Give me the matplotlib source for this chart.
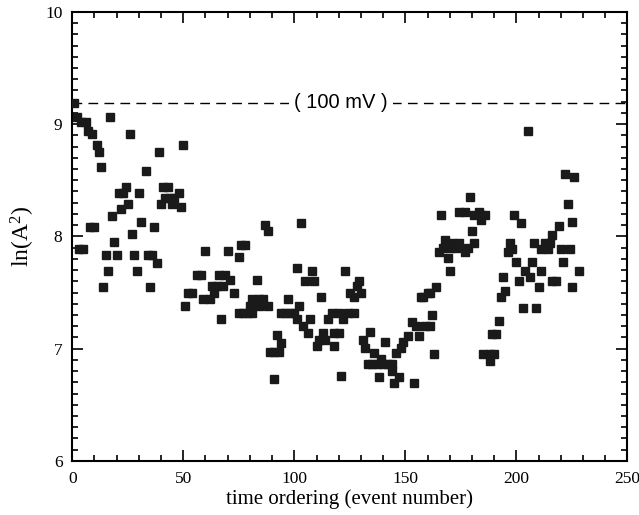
import matplotlib
matplotlib.use("Agg")
import matplotlib.pyplot as plt
from matplotlib.ticker import MultipleLocator

plt.rcParams["font.family"] = ["Liberation Serif", "DejaVu Serif"]
plt.rcParams["mathtext.default"] = "regular"

# event number, ln(A^2)
event = [1, 2, 4, 6, 7, 9, 8, 10, 3, 5, 11, 12, 13, 14, 15, 16, 17, 18, 19, 20,
         21, 23, 22, 24, 25, 26, 27, 28, 29, 30, 31, 33, 34, 35, 36, 37, 38, 39, 40, 41,
         42, 43, 44, 45, 46, 48, 49, 50, 51,
         87, 88, 103, 76, 78, 60, 70, 75, 101, 56, 58, 66, 69, 71, 83, 105, 63, 65, 68, 52,
         54, 64, 73, 59, 62, 81, 84, 86, 97, 80, 84, 88, 102, 75, 77, 79, 81, 94, 96, 98,
         100, 67, 101, 104, 106, 92, 94, 89, 91, 93, 91,
         108, 123, 109, 129, 128, 125, 130, 127, 112, 157, 158, 117, 120, 124, 127, 107, 115, 122, 113, 118,
         120, 134, 111, 114, 131, 110, 118, 132, 141, 136, 146, 148, 149, 151, 153, 155, 156, 159, 160, 139,
         133, 135, 137, 140, 142, 144, 144, 147, 138, 145, 154, 121,
         205, 179, 166, 174, 177, 183, 181, 184, 186, 184, 199, 202, 180, 168, 171, 174, 181, 167, 170, 173,
         178, 165, 177, 169, 197, 198, 196, 208, 211, 214, 213, 200, 207, 204, 211, 206, 194, 201, 210, 170,
         164, 161, 195, 193, 203, 209, 162, 161, 192, 189, 191, 163, 185, 188, 190, 188,
         222, 226, 223, 225, 219, 216, 215, 220, 224, 221, 228, 216, 218, 225]
lnA2 = [9.19, 9.06, 9.02, 9.02, 8.94, 8.91, 8.08, 8.08, 7.89, 7.89, 8.81, 8.75, 8.62, 7.55, 7.83, 7.69, 9.06, 8.18, 7.95, 7.83,
        8.39, 8.39, 8.24, 8.44, 8.29, 8.91, 8.02, 7.83, 7.69, 8.39, 8.13, 8.58, 7.83, 7.55, 7.83, 8.08, 7.76, 8.75, 8.29, 8.44,
        8.34, 8.44, 8.34, 8.29, 8.34, 8.39, 8.26, 8.81, 7.38,
        8.10, 8.05, 8.12, 7.92, 7.92, 7.87, 7.87, 7.82, 7.72, 7.66, 7.66, 7.66, 7.66, 7.61, 7.61, 7.60, 7.56, 7.56, 7.56, 7.50,
        7.50, 7.50, 7.50, 7.44, 7.44, 7.44, 7.44, 7.44, 7.44, 7.38, 7.38, 7.38, 7.38, 7.32, 7.32, 7.32, 7.32, 7.32, 7.32, 7.32,
        7.32, 7.26, 7.26, 7.20, 7.14, 7.12, 7.05, 6.97, 6.97, 6.97, 6.73,
        7.69, 7.69, 7.60, 7.60, 7.56, 7.50, 7.50, 7.46, 7.46, 7.46, 7.46, 7.32, 7.32, 7.32, 7.32, 7.26, 7.26, 7.26, 7.14, 7.14,
        7.14, 7.15, 7.08, 7.08, 7.08, 7.02, 7.02, 7.01, 7.06, 6.96, 6.96, 7.01, 7.06, 7.11, 7.24, 7.20, 7.11, 7.20, 7.50, 6.91,
        6.86, 6.86, 6.86, 6.86, 6.86, 6.86, 6.80, 6.75, 6.75, 6.69, 6.69, 6.76,
        8.94, 8.35, 8.19, 8.22, 8.22, 8.22, 8.19, 8.19, 8.19, 8.15, 8.19, 8.12, 8.05, 7.97, 7.94, 7.94, 7.94, 7.90, 7.90, 7.90,
        7.90, 7.86, 7.86, 7.81, 7.94, 7.89, 7.86, 7.94, 7.89, 7.89, 7.94, 7.77, 7.77, 7.69, 7.69, 7.64, 7.64, 7.60, 7.55, 7.69,
        7.55, 7.50, 7.51, 7.46, 7.36, 7.36, 7.30, 7.20, 7.25, 7.13, 7.13, 6.95, 6.95, 6.95, 6.95, 6.89,
        8.56, 8.53, 8.29, 8.13, 8.09, 8.01, 7.94, 7.89, 7.89, 7.77, 7.69, 7.60, 7.60, 7.55]

ref_level = 9.19
ref_label = "( 100 mV )"

fig = plt.figure(figsize=(6.39, 5.15), dpi=100)
ax = fig.add_axes([0.113, 0.105, 0.869, 0.872])

ax.axhline(ref_level, color="black", lw=1.0, ls=(0, (7, 4.5)), zorder=1)
ax.text(121, ref_level, ref_label, ha="center", va="center", fontsize=14.5,
        family=["Liberation Sans", "DejaVu Sans"],
        bbox=dict(facecolor="white", edgecolor="none", pad=4), zorder=2)

ax.plot(event, lnA2, ls="none", marker="s", ms=5.1, color="#1a1a1a", zorder=3)

ax.set_xlim(0, 250)
ax.set_ylim(6, 10)
ax.xaxis.set_major_locator(MultipleLocator(50))
ax.xaxis.set_minor_locator(MultipleLocator(10))
ax.yaxis.set_major_locator(MultipleLocator(1))
ax.yaxis.set_minor_locator(MultipleLocator(0.1))
ax.tick_params(which="both", direction="in", top=True, right=True, labelsize=12.5, width=1.2)
ax.tick_params(which="major", length=8, pad=7)
ax.tick_params(which="minor", length=4)
for s in ax.spines.values():
    s.set_linewidth(1.5)

ax.set_xlabel("time ordering (event number)", fontsize=15, labelpad=2)
ax.set_ylabel("ln(A$^2$)", fontsize=17, labelpad=6)

fig.savefig("out.png", dpi=100)
